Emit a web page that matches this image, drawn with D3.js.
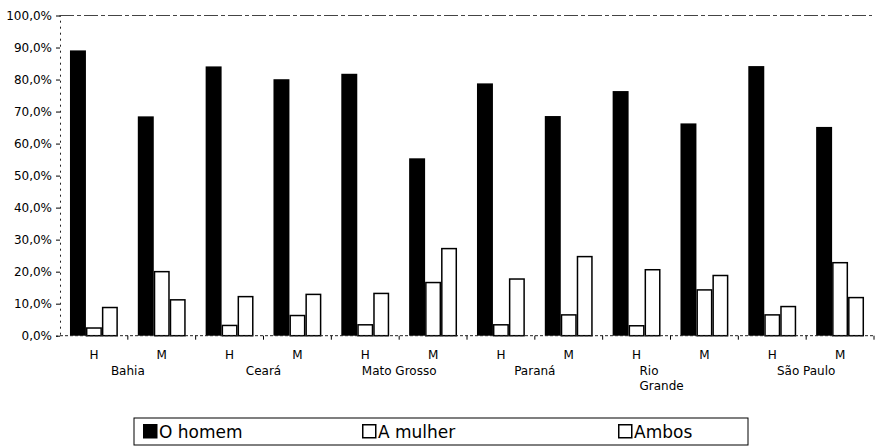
<!DOCTYPE html>
<html>
<head>
<meta charset="utf-8">
<script src="https://cdn.jsdelivr.net/npm/d3@7"></script>
<style>
  html, body { margin: 0; padding: 0; background: #fff; }
  svg { display: block; }
  text { font-family: "DejaVu Sans", sans-serif; fill: #000; }
</style>
</head>
<body>
<svg id="chart" width="875" height="446"></svg>
<script>
// ---- data ----
const states = ["Bahia", "Ceará", "Mato Grosso", "Paraná", "Rio Grande", "São Paulo"];
const sexes = ["H", "M"];
const seriesNames = ["O homem", "A mulher", "Ambos"];
const homem  = [89.1, 68.5, 84.1, 80.1, 81.8, 55.4, 78.8, 68.6, 76.4, 66.3, 84.2, 65.2];
const mulher = [2.4, 20.0, 3.2, 6.3, 3.4, 16.6, 3.4, 6.5, 3.1, 14.3, 6.5, 22.8];
const ambos  = [8.8, 11.2, 12.2, 12.9, 13.2, 27.2, 17.7, 24.7, 20.6, 18.8, 9.1, 11.9];
const yTicks = [0, 10, 20, 30, 40, 50, 60, 70, 80, 90, 100];

(function () {
// ---- build table ----
const groups = [];
states.forEach((s, i) => sexes.forEach((x, j) => groups.push({ state: s, sex: x, key: s + "|" + x })));
const seriesVals = [homem, mulher, ambos];
const fills = ["#000", "#fff", "#fff"];

const svg = d3.select("#chart");
const pLeft = 60, pRight = 874, pTop = 15.5, pBottom = 335.7;

const x = d3.scaleBand().domain(groups.map(d => d.key)).range([pLeft, pRight])
  .paddingInner(0.294).paddingOuter(0.147);
const xs = d3.scaleBand().domain(seriesNames).range([0, x.bandwidth()]).padding(0);
const y = d3.scaleLinear().domain([0, 100]).range([pBottom, pTop]);

const loc = d3.formatLocale({ decimal: ",", thousands: ".", grouping: [3], currency: ["", ""] });
const fmt = v => loc.format(".1f")(v) + "%";

// top line (100%)
svg.append("line").attr("x1", pLeft).attr("x2", 872).attr("y1", y(100)).attr("y2", y(100))
  .attr("stroke", "#444").attr("stroke-width", 1).attr("stroke-dasharray", "14,3,4,3");

// y axis
const yAxis = d3.axisLeft(y).tickValues(yTicks).tickFormat(fmt).tickSize(4).tickPadding(4);
const gy = svg.append("g").attr("transform", `translate(${pLeft},0)`).call(yAxis);
gy.select(".domain").attr("stroke", "#222").attr("stroke-dasharray", "2,4");
gy.selectAll(".tick line").attr("stroke", "#000");
gy.selectAll(".tick text").style("font-size", "12px").attr("fill", "#000");

// bars
const gBars = svg.append("g");
seriesNames.forEach((sn, k) => {
  gBars.selectAll(null).data(groups).enter().append("rect")
    .attr("x", d => x(d.key) + xs(sn) + (k === 0 ? 0 : 0.75))
    .attr("width", xs.bandwidth() - (k === 0 ? 0 : 1.5))
    .attr("y", (d, i) => y(seriesVals[k][i]))
    .attr("height", (d, i) => pBottom - y(seriesVals[k][i]))
    .attr("fill", fills[k])
    .attr("stroke", "#000")
    .attr("stroke-width", k === 0 ? 0 : 1.5);
});

// x axis baseline
svg.append("line").attr("x1", pLeft).attr("x2", pRight).attr("y1", pBottom).attr("y2", pBottom)
  .attr("stroke", "#222").attr("stroke-width", 1).attr("stroke-dasharray", "3,2");
// band boundary ticks
const step = x.step();
const bounds = d3.range(1, groups.length + 1).map(i => pLeft + i * step);
svg.selectAll(null).data(bounds).enter().append("line")
  .attr("x1", d => d).attr("x2", d => d).attr("y1", pBottom).attr("y2", pBottom + 4)
  .attr("stroke", "#000").attr("stroke-width", 1);

// H / M labels
svg.selectAll(null).data(groups).enter().append("text")
  .attr("x", d => x(d.key) + x.bandwidth() / 2)
  .attr("y", 359)
  .attr("text-anchor", "middle")
  .style("font-size", "12px")
  .text(d => d.sex);

// state labels
states.forEach((s, i) => {
  const cx = (x(s + "|H") + x(s + "|M") + x.bandwidth()) / 2;
  if (s === "Rio Grande") {
    const t = svg.append("text").attr("x", cx - 31).attr("y", 375).style("font-size", "12px");
    t.append("tspan").attr("x", cx - 31).attr("dy", 0).text("Rio");
    t.append("tspan").attr("x", cx - 31).attr("dy", 15).text("Grande");
  } else {
    svg.append("text").attr("x", cx).attr("y", 375).attr("text-anchor", "middle")
      .style("font-size", "12px").text(s);
  }
});

// legend
const lg = svg.append("g");
lg.append("rect").attr("x", 134).attr("y", 418).attr("width", 614).attr("height", 27)
  .attr("fill", "#fff").attr("stroke", "#000").attr("stroke-width", 1);
const legX = [143, 362, 618];
seriesNames.forEach((sn, k) => {
  lg.append("rect").attr("x", legX[k] + 0.75).attr("y", 424.75).attr("width", 13).attr("height", 13)
    .attr("fill", fills[k]).attr("stroke", "#000").attr("stroke-width", 1.5);
  lg.append("text").attr("x", legX[k] + 16).attr("y", 438).style("font-size", "17px").text(sn);
});
})();
</script>
</body>
</html>
